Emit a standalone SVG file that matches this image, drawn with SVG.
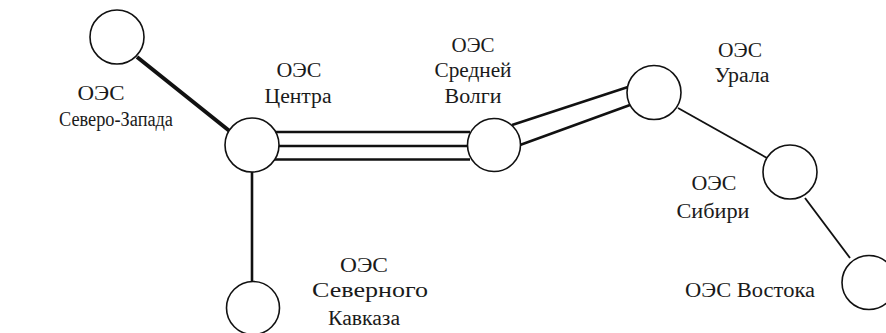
<svg xmlns="http://www.w3.org/2000/svg" width="886" height="333" viewBox="0 0 886 333">
<style>
.n{fill:#fff;stroke:#111;stroke-width:1.6}
.t{font-family:"Liberation Serif","Times New Roman",serif;font-size:20px;fill:#1a1a1a;text-anchor:middle}
.l{stroke:#111;fill:none}
</style>
<rect width="886" height="333" fill="#fff"/>
<g id="connectors">
<line class="l" x1="137" y1="57" x2="232" y2="133" stroke-width="4"/>
<line class="l" x1="252" y1="172" x2="252" y2="282" stroke-width="2.6"/>
<line class="l" x1="273" y1="132" x2="470" y2="132" stroke-width="2.6"/>
<line class="l" x1="278" y1="146" x2="468" y2="146" stroke-width="2.6"/>
<line class="l" x1="273" y1="159.5" x2="470" y2="159.5" stroke-width="2.6"/>
<line class="l" x1="512" y1="125" x2="628" y2="87" stroke-width="2.6"/>
<line class="l" x1="520" y1="145" x2="630" y2="105" stroke-width="2.6"/>
<line class="l" x1="678" y1="108" x2="767" y2="158" stroke-width="1.8"/>
<line class="l" x1="805" y1="198" x2="850" y2="258" stroke-width="1.8"/>
</g>
<g id="nw"><circle class="n" cx="117" cy="37" r="27"/>
<text class="t" x="101" y="100" textLength="47" lengthAdjust="spacingAndGlyphs">ОЭС</text>
<text class="t" x="116" y="126" textLength="114" lengthAdjust="spacingAndGlyphs">Северо-Запада</text></g>
<g id="center"><circle class="n" cx="252" cy="145" r="27"/>
<text class="t" x="299" y="77" textLength="45" lengthAdjust="spacingAndGlyphs">ОЭС</text>
<text class="t" x="298" y="103" textLength="67" lengthAdjust="spacingAndGlyphs">Центра</text></g>
<g id="volga"><circle class="n" cx="494" cy="145" r="26.5"/>
<text class="t" x="473" y="52" textLength="43" lengthAdjust="spacingAndGlyphs">ОЭС</text>
<text class="t" x="473" y="77" textLength="77" lengthAdjust="spacingAndGlyphs">Средней</text>
<text class="t" x="473" y="103" textLength="57" lengthAdjust="spacingAndGlyphs">Волги</text></g>
<g id="ural"><circle class="n" cx="654" cy="92.5" r="27"/>
<text class="t" x="740" y="57" textLength="44" lengthAdjust="spacingAndGlyphs">ОЭС</text>
<text class="t" x="742" y="82" textLength="55" lengthAdjust="spacingAndGlyphs">Урала</text></g>
<g id="siberia"><circle class="n" cx="790" cy="172" r="27"/>
<text class="t" x="714" y="190" textLength="45" lengthAdjust="spacingAndGlyphs">ОЭС</text>
<text class="t" x="713" y="218" textLength="73" lengthAdjust="spacingAndGlyphs">Сибири</text></g>
<g id="vostok"><circle class="n" cx="869" cy="282.5" r="27"/>
<text class="t" x="750" y="297" textLength="130" lengthAdjust="spacingAndGlyphs">ОЭС Востока</text></g>
<g id="kavkaz"><circle class="n" cx="253" cy="308" r="26.5"/>
<text class="t" x="364" y="272" textLength="48" lengthAdjust="spacingAndGlyphs">ОЭС</text>
<text class="t" x="370" y="297" textLength="116" lengthAdjust="spacingAndGlyphs">Северного</text>
<text class="t" x="364" y="325" textLength="72" lengthAdjust="spacingAndGlyphs">Кавказа</text></g>
</svg>
